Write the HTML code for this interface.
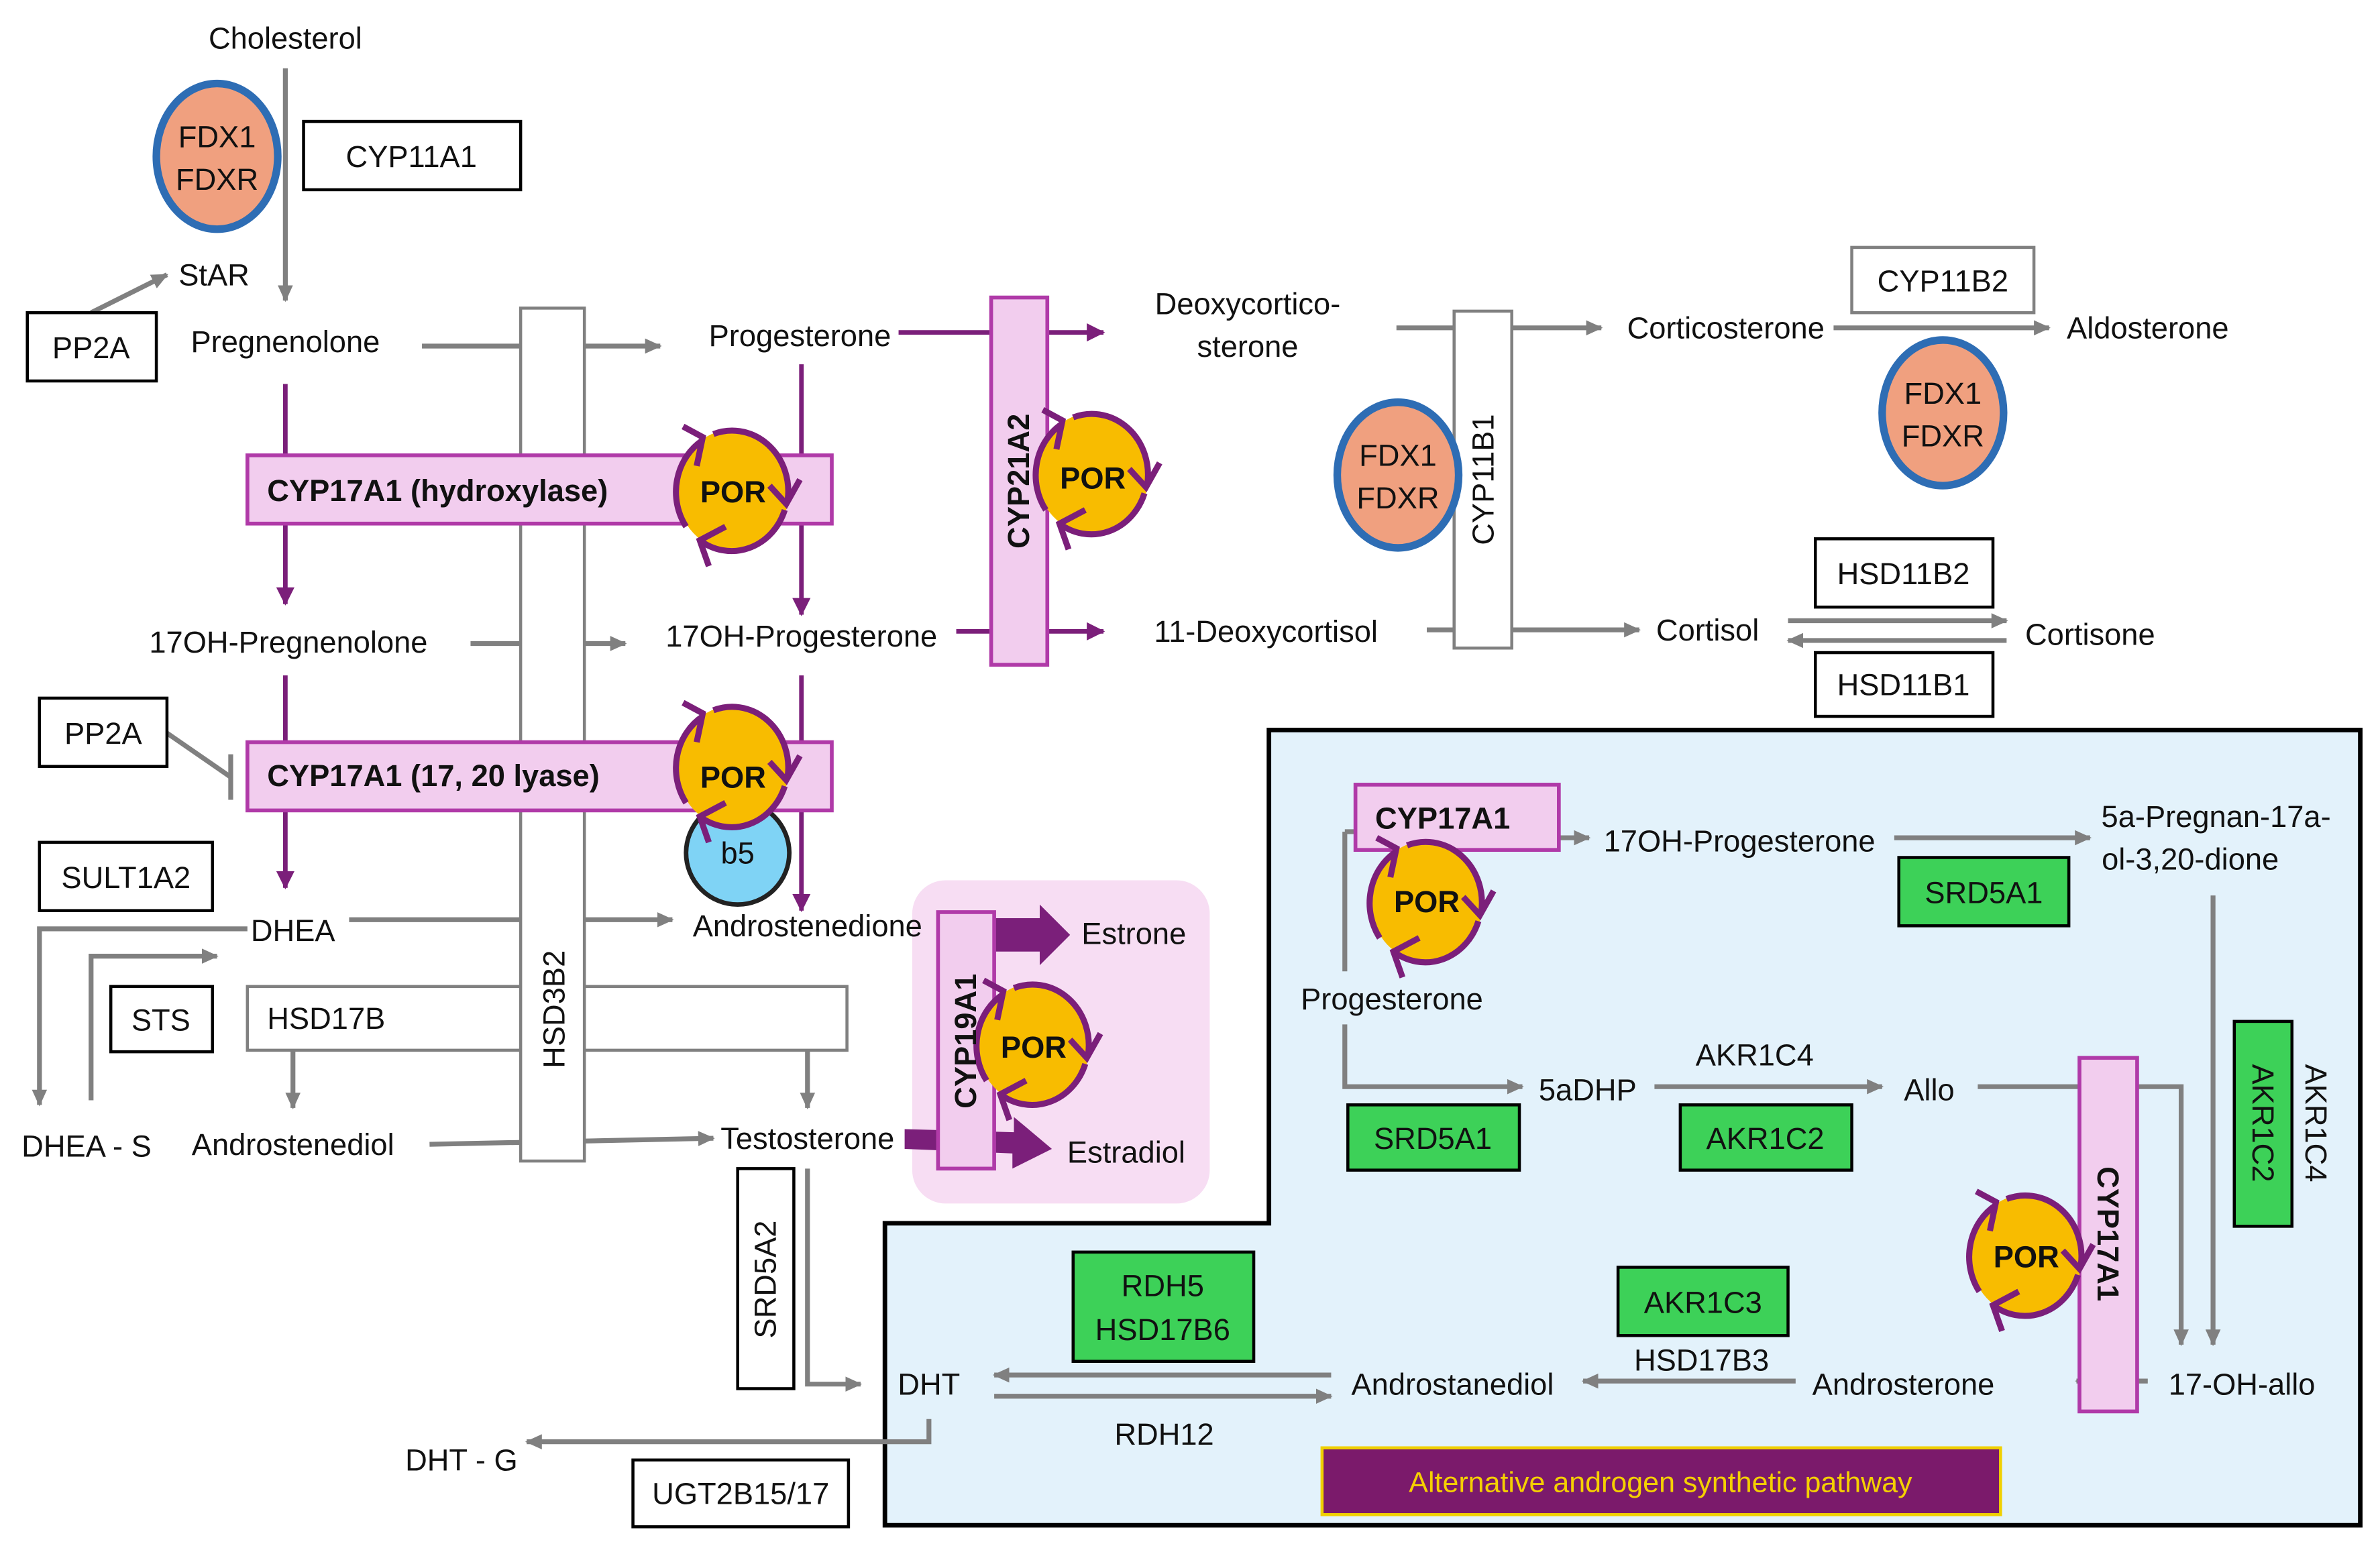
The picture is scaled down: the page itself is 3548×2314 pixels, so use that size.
<!DOCTYPE html>
<html><head><meta charset="utf-8"><style>
html,body{margin:0;padding:0;background:#fff}
svg{display:block}
text{font-family:"Liberation Sans",Arial,sans-serif;font-size:20px;fill:#111}
.b{font-weight:bold}
</style></head><body>
<svg width="3548" height="2314" viewBox="0 0 1568 1022.6" xmlns="http://www.w3.org/2000/svg">
<defs>
<marker id="ga" markerWidth="11" markerHeight="10" refX="10" refY="5" orient="auto" markerUnits="userSpaceOnUse"><path d="M0,0 L11,5 L0,10 z" fill="#808080"/></marker>
<marker id="pa" markerWidth="12" markerHeight="12" refX="11" refY="6" orient="auto" markerUnits="userSpaceOnUse"><path d="M0,0 L12,6 L0,12 z" fill="#7b1f7a"/></marker>
<g id="por">
<ellipse cx="0" cy="0" rx="37" ry="40" fill="#f8bc00"/>
<path d="M-13,-37 A37,40 0 0 1 36,6" fill="none" stroke="#7b1f7a" stroke-width="4"/>
<path d="M24,-3 L35,9 L44,-7" fill="none" stroke="#7b1f7a" stroke-width="4"/>
<path d="M34,13 A37,40 0 0 1 -22,33" fill="none" stroke="#7b1f7a" stroke-width="4"/>
<path d="M-5,24 L-22,33 L-16,50" fill="none" stroke="#7b1f7a" stroke-width="4"/>
<path d="M-31,24 A37,40 0 0 1 -20,-33" fill="none" stroke="#7b1f7a" stroke-width="4"/>
<path d="M-33,-42 L-20,-35 L-24,-16" fill="none" stroke="#7b1f7a" stroke-width="4"/>
</g>
</defs>

<path d="M836,481 L1555,481 L1555,1005 L583,1005 L583,806 L836,806 Z" fill="#e3f2fb" stroke="#000" stroke-width="3"/>
<rect x="601" y="580" width="196" height="213" rx="22" fill="#f7ddf3"/>

<g stroke="#808080" stroke-width="3.2" fill="none">
<line x1="188" y1="45" x2="188" y2="198" marker-end="url(#ga)"/>
<line x1="60" y1="206" x2="110" y2="181" marker-end="url(#ga)"/>
<line x1="278" y1="228" x2="435" y2="228" marker-end="url(#ga)"/>
<line x1="310" y1="424" x2="412" y2="424" marker-end="url(#ga)"/>
<line x1="230" y1="606" x2="443" y2="606" marker-end="url(#ga)"/>
<polyline points="163,612 26,612 26,728" marker-end="url(#ga)"/>
<polyline points="60,725 60,630 143,630" marker-end="url(#ga)"/>
<line x1="193" y1="692" x2="193" y2="730" marker-end="url(#ga)"/>
<line x1="532" y1="692" x2="532" y2="730" marker-end="url(#ga)"/>
<line x1="283" y1="754" x2="470" y2="750" marker-end="url(#ga)"/>
<line x1="110" y1="483" x2="152" y2="512"/>
<line x1="152" y1="497" x2="152" y2="527"/>
<line x1="920" y1="216" x2="1055" y2="216" marker-end="url(#ga)"/>
<line x1="940" y1="415" x2="1080" y2="415" marker-end="url(#ga)"/>
<line x1="1208" y1="216" x2="1350" y2="216" marker-end="url(#ga)"/>
<line x1="1178" y1="409" x2="1322" y2="409" marker-end="url(#ga)"/>
<line x1="1322" y1="422" x2="1178" y2="422" marker-end="url(#ga)"/>
<polyline points="532,770 532,912 567,912" marker-end="url(#ga)"/>
<polyline points="612,935 612,950 347,950" marker-end="url(#ga)"/>
<line x1="1027" y1="552" x2="1047" y2="552" marker-end="url(#ga)"/>
<line x1="1248" y1="552" x2="1377" y2="552" marker-end="url(#ga)"/>
<line x1="886" y1="548" x2="886" y2="640"/>
<line x1="886" y1="548" x2="895" y2="548"/>
<polyline points="886,675 886,716 1003,716" marker-end="url(#ga)"/>
<line x1="1090" y1="716" x2="1240" y2="716" marker-end="url(#ga)"/>
<polyline points="1303,716 1437,716 1437,886" marker-end="url(#ga)"/>
<line x1="1458" y1="590" x2="1458" y2="886" marker-end="url(#ga)"/>
<line x1="1415" y1="910" x2="1368" y2="910" marker-end="url(#ga)"/>
<line x1="1183" y1="910" x2="1043" y2="910" marker-end="url(#ga)"/>
<line x1="877" y1="906" x2="655" y2="906" marker-end="url(#ga)"/>
<line x1="655" y1="920" x2="877" y2="920" marker-end="url(#ga)"/>
</g>

<g stroke="#7b1f7a" stroke-width="3" fill="none">
<line x1="188" y1="253" x2="188" y2="398" marker-end="url(#pa)"/>
<line x1="528" y1="240" x2="528" y2="405" marker-end="url(#pa)"/>
<line x1="188" y1="445" x2="188" y2="585" marker-end="url(#pa)"/>
<line x1="528" y1="445" x2="528" y2="600" marker-end="url(#pa)"/>
<line x1="592" y1="219" x2="727" y2="219" marker-end="url(#pa)"/>
<line x1="630" y1="416" x2="727" y2="416" marker-end="url(#pa)"/>
</g>
<path d="M655,605 L685,605 L685,596 L705,616 L685,636 L685,627 L655,627 z" fill="#7b1f7a"/>
<path d="M596,744 L668,746 L668,736 L693,757 L667,770 L667,760 L596,757 z" fill="#7b1f7a"/>

<g stroke="#000" stroke-width="2" fill="#fff">
<rect x="200" y="80" width="143" height="45"/>
<rect x="18" y="206" width="85" height="45"/>
<rect x="26" y="460" width="84" height="45"/>
<rect x="26" y="555" width="114" height="45"/>
<rect x="73" y="650" width="67" height="43"/>
<rect x="486" y="770" width="37" height="145"/>
<rect x="417" y="962" width="142" height="44"/>
<rect x="1196" y="355" width="117" height="45"/>
<rect x="1196" y="430" width="117" height="42"/>
</g>
<rect x="1220" y="163" width="120" height="43" fill="#fff" stroke="#808080" stroke-width="2"/>
<rect x="163" y="650" width="395" height="42" fill="#fff" stroke="#808080" stroke-width="2"/>
<rect x="343" y="203" width="42" height="562" fill="#fff" stroke="#808080" stroke-width="2"/>
<rect x="958" y="205" width="38" height="222" fill="#fff" stroke="#808080" stroke-width="2"/>

<g fill="#f2cdee" stroke="#b03aa8" stroke-width="2.5">
<rect x="163" y="300" width="385" height="45"/>
<rect x="163" y="489" width="385" height="45"/>
<rect x="653" y="196" width="37" height="242"/>
<rect x="618" y="601" width="37" height="169"/>
<rect x="893" y="517" width="134" height="43"/>
<rect x="1370" y="697" width="38" height="233"/>
</g>

<g fill="#3dd158" stroke="#000" stroke-width="2">
<rect x="1251" y="565" width="112" height="45"/>
<rect x="888" y="728" width="113" height="43"/>
<rect x="1107" y="728" width="113" height="43"/>
<rect x="1472" y="673" width="38" height="135"/>
<rect x="1066" y="835" width="112" height="45"/>
<rect x="707" y="825" width="119" height="72"/>
</g>

<rect x="871" y="954" width="447" height="44" fill="#7b1a6b" stroke="#f0d000" stroke-width="2"/>
<text x="1094" y="983" text-anchor="middle" style="fill:#f5d000;font-size:19px">Alternative androgen synthetic pathway</text>

<g fill="#f0a07f" stroke="#2e6db4" stroke-width="5">
<ellipse cx="143" cy="103" rx="40" ry="48"/>
<ellipse cx="921" cy="313" rx="40" ry="48"/>
<ellipse cx="1280" cy="272" rx="40" ry="48"/>
</g>
<circle cx="486" cy="562" r="34" fill="#7fd3f5" stroke="#222" stroke-width="3"/>

<use href="#por" x="483" y="323"/>
<use href="#por" x="483" y="505"/>
<use href="#por" x="720" y="312"/>
<use href="#por" x="681" y="688"/>
<use href="#por" x="940" y="594"/>
<use href="#por" x="1335" y="827"/>
<g text-anchor="middle">
<text x="483" y="331" class="b">POR</text>
<text x="483" y="519" class="b">POR</text>
<text x="720" y="322" class="b">POR</text>
<text x="681" y="697" class="b">POR</text>
<text x="940" y="601" class="b">POR</text>
<text x="1335" y="835" class="b">POR</text>
</g>
<text x="486" y="569" text-anchor="middle">b5</text>

<g text-anchor="middle">
<text x="188" y="32">Cholesterol</text>
<text x="143" y="97">FDX1</text><text x="143" y="125">FDXR</text>
<text x="921" y="307">FDX1</text><text x="921" y="335">FDXR</text>
<text x="1280" y="266">FDX1</text><text x="1280" y="294">FDXR</text>
<text x="271" y="110">CYP11A1</text>
<text x="141" y="188">StAR</text>
<text x="60" y="236">PP2A</text>
<text x="188" y="232">Pregnenolone</text>
<text x="527" y="228">Progesterone</text>
<text x="190" y="430">17OH-Pregnenolone</text>
<text x="528" y="426">17OH-Progesterone</text>
<text x="68" y="490">PP2A</text>
<text x="83" y="585">SULT1A2</text>
<text x="193" y="620">DHEA</text>
<text x="532" y="617">Androstenedione</text>
<text x="106" y="679">STS</text>
<text x="57" y="762">DHEA - S</text>
<text x="193" y="761">Androstenediol</text>
<text x="532" y="757">Testosterone</text>
<text x="822" y="207">Deoxycortico-</text>
<text x="822" y="235">sterone</text>
<text x="834" y="423">11-Deoxycortisol</text>
<text x="1137" y="223">Corticosterone</text>
<text x="1415" y="223">Aldosterone</text>
<text x="1280" y="192">CYP11B2</text>
<text x="1125" y="422">Cortisol</text>
<text x="1377" y="425">Cortisone</text>
<text x="1254" y="385">HSD11B2</text>
<text x="1254" y="458">HSD11B1</text>
<text x="747" y="622">Estrone</text>
<text x="742" y="766">Estradiol</text>
<text x="612" y="919">DHT</text>
<text x="304" y="969">DHT - G</text>
<text x="488" y="991">UGT2B15/17</text>
<text x="1146" y="561">17OH-Progesterone</text>
<text x="1460" y="545">5a-Pregnan-17a-</text>
<text x="1443" y="573">ol-3,20-dione</text>
<text x="1307" y="595">SRD5A1</text>
<text x="917" y="665">Progesterone</text>
<text x="1046" y="725">5aDHP</text>
<text x="1156" y="702">AKR1C4</text>
<text x="1271" y="725">Allo</text>
<text x="944" y="757">SRD5A1</text>
<text x="1163" y="757">AKR1C2</text>
<text x="1477" y="919">17-OH-allo</text>
<text x="1254" y="919">Androsterone</text>
<text x="1122" y="865">AKR1C3</text>
<text x="1121" y="903">HSD17B3</text>
<text x="957" y="919">Androstanediol</text>
<text x="767" y="952">RDH12</text>
<text x="766" y="854">RDH5</text>
<text x="766" y="883">HSD17B6</text>
</g>
<text x="176" y="330" class="b">CYP17A1 (hydroxylase)</text>
<text x="176" y="518" class="b">CYP17A1 (17, 20 lyase)</text>
<text x="176" y="678">HSD17B</text>
<text x="906" y="546" class="b">CYP17A1</text>

<text transform="translate(372,665) rotate(-90)" text-anchor="middle">HSD3B2</text>
<text transform="translate(678,317) rotate(-90)" text-anchor="middle" class="b">CYP21A2</text>
<text transform="translate(984,316) rotate(-90)" text-anchor="middle">CYP11B1</text>
<text transform="translate(643,686) rotate(-90)" text-anchor="middle" class="b">CYP19A1</text>
<text transform="translate(511,843) rotate(-90)" text-anchor="middle">SRD5A2</text>
<text transform="translate(1382,813) rotate(90)" text-anchor="middle" class="b">CYP17A1</text>
<text transform="translate(1484,740) rotate(90)" text-anchor="middle">AKR1C2</text>
<text transform="translate(1519,740) rotate(90)" text-anchor="middle">AKR1C4</text>
</svg>
</body></html>
